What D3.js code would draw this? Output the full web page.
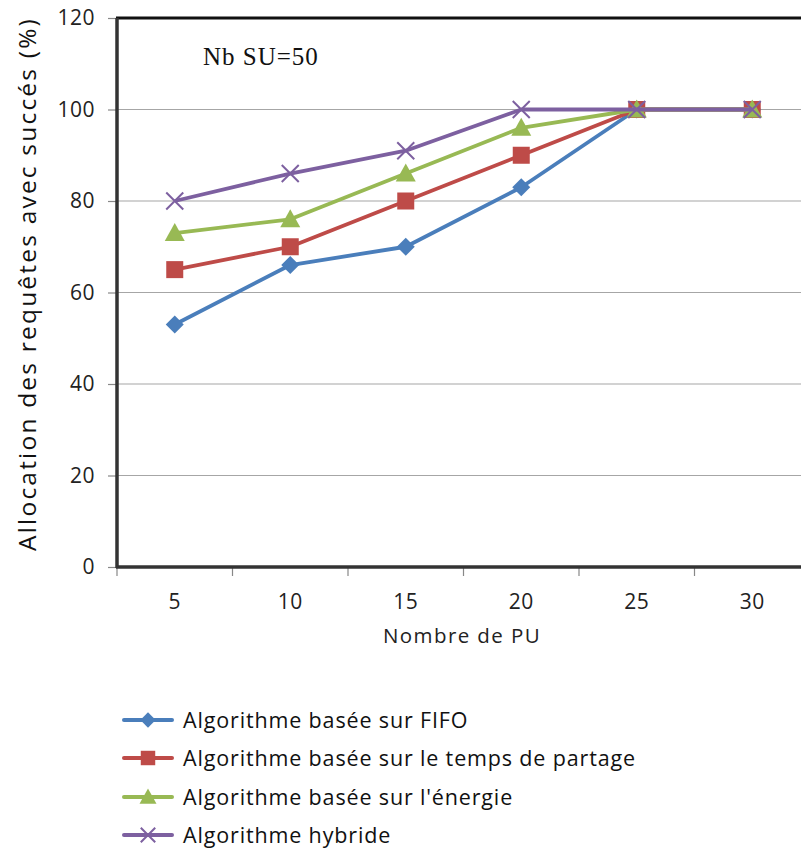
<!DOCTYPE html>
<html>
<head>
<meta charset="utf-8">
<script src="https://cdn.jsdelivr.net/npm/d3@7"></script>
<style>
  html, body { margin: 0; padding: 0; background: #fff; }
  svg { display: block; }
</style>
</head>
<body>
<svg id="chart" width="801" height="849"></svg>
<script>
// Nombre de PU (x categories)
const categories = ["5", "10", "15", "20", "25", "30"];
// Allocation des requêtes avec succès (%) per algorithm
const fifo = [53, 66, 70, 83, 100, 100];
const tempsPartage = [65, 70, 80, 90, 100, 100];
const energie = [73, 76, 86, 96, 100, 100];
const hybride = [80, 86, 91, 100, 100, 100];
const yTicks = [0, 20, 40, 60, 80, 100, 120];

const seriesNames = [
  "Algorithme basée sur FIFO",
  "Algorithme basée sur le temps de partage",
  "Algorithme basée sur l'énergie",
  "Algorithme hybride"
];
const seriesValues = [fifo, tempsPartage, energie, hybride];
const colors = ["#4a7ebb", "#be4b48", "#98b954", "#7d60a0"];
const shapes = ["diamond", "square", "triangle", "cross"];

const font = "'Open Sans', 'DejaVu Sans', sans-serif";
const svg = d3.select("#chart");

const plot = { left: 117, top: 18, bottom: 567, band: 115.5 };
const x = d3.scaleBand()
  .domain(categories)
  .range([plot.left, plot.left + plot.band * categories.length])
  .paddingInner(0).paddingOuter(0);
const y = d3.scaleLinear().domain([0, 120]).range([plot.bottom, plot.top]);
const xc = c => x(c) + x.bandwidth() / 2;

// gridlines
svg.append("g")
  .selectAll("line")
  .data(yTicks.filter(t => t > 0 && t < 120))
  .join("line")
  .attr("x1", plot.left).attr("x2", 801)
  .attr("y1", d => y(d)).attr("y2", d => y(d))
  .attr("stroke", "#a6a6a6").attr("stroke-width", 1.2);

// y axis
const yAxis = svg.append("g")
  .attr("transform", `translate(${plot.left},0)`)
  .call(d3.axisLeft(y).tickValues(yTicks).tickSize(9).tickPadding(13));
yAxis.select(".domain").remove();
yAxis.selectAll(".tick line").attr("stroke", "#888").attr("stroke-width", 1.2);
yAxis.selectAll(".tick text")
  .attr("font-family", font).attr("font-size", 21).attr("letter-spacing", 0.5).attr("fill", "#222");

// x axis ticks at band edges
const edges = categories.map(c => x(c)).concat([x.range()[1]]);
svg.append("g").selectAll("line")
  .data(edges)
  .join("line")
  .attr("x1", d => d).attr("x2", d => d)
  .attr("y1", plot.bottom).attr("y2", plot.bottom + 9)
  .attr("stroke", "#888").attr("stroke-width", 1.2);

const xAxis = svg.append("g")
  .attr("transform", `translate(0,${plot.bottom})`)
  .call(d3.axisBottom(x).tickSize(0).tickPadding(27));
xAxis.select(".domain").remove();
xAxis.selectAll(".tick text")
  .attr("font-family", font).attr("font-size", 21).attr("letter-spacing", 0.5).attr("fill", "#222");

// frame
svg.append("line")
  .attr("x1", plot.left - 1).attr("x2", 801)
  .attr("y1", plot.top).attr("y2", plot.top)
  .attr("stroke", "#111").attr("stroke-width", 3);
svg.append("line")
  .attr("x1", plot.left).attr("x2", plot.left)
  .attr("y1", plot.top).attr("y2", plot.bottom + 1)
  .attr("stroke", "#333").attr("stroke-width", 3.5);
svg.append("line")
  .attr("x1", plot.left - 1).attr("x2", 801)
  .attr("y1", plot.bottom).attr("y2", plot.bottom)
  .attr("stroke", "#333").attr("stroke-width", 3.5);

// axis titles
svg.append("text")
  .attr("transform", `translate(36,284) rotate(-90)`)
  .attr("text-anchor", "middle")
  .attr("font-family", font).attr("font-size", 24.5).attr("letter-spacing", 2.2)
  .attr("fill", "#111")
  .text("Allocation des requêtes avec succés (%)");
svg.append("text")
  .attr("x", 462).attr("y", 643)
  .attr("text-anchor", "middle")
  .attr("font-family", font).attr("font-size", 20.5).attr("letter-spacing", 1.4)
  .attr("fill", "#222")
  .text("Nombre de PU");

// annotation
svg.append("text")
  .attr("x", 203).attr("y", 65)
  .attr("font-family", "'Liberation Serif', 'DejaVu Serif', serif")
  .attr("font-size", 25).attr("letter-spacing", 1).attr("fill", "#111")
  .text("Nb SU=50");

// marker drawing
function drawMarker(g, shape, color, cx, cy, scale) {
  const s = scale || 1;
  if (shape === "diamond") {
    const r = 9 * s;
    g.append("path")
      .attr("d", `M${cx},${cy - r}L${cx + r},${cy}L${cx},${cy + r}L${cx - r},${cy}Z`)
      .attr("fill", color);
  } else if (shape === "square") {
    const r = 8.5 * s;
    g.append("rect")
      .attr("x", cx - r).attr("y", cy - r)
      .attr("width", 2 * r).attr("height", 2 * r)
      .attr("fill", color);
  } else if (shape === "triangle") {
    const r = 10 * s;
    g.append("path")
      .attr("d", `M${cx},${cy - r}L${cx + r},${cy + r * 0.8}L${cx - r},${cy + r * 0.8}Z`)
      .attr("fill", color);
  } else {
    const r = 8.5 * s;
    g.append("path")
      .attr("d", `M${cx - r},${cy - r}L${cx + r},${cy + r}M${cx - r},${cy + r}L${cx + r},${cy - r}`)
      .attr("stroke", color).attr("stroke-width", 2).attr("fill", "none");
  }
}

// series lines + markers
const line = d3.line().x((d, i) => xc(categories[i])).y(d => y(d));
seriesValues.forEach((vals, k) => {
  const g = svg.append("g");
  g.append("path")
    .datum(vals)
    .attr("d", line)
    .attr("fill", "none")
    .attr("stroke", colors[k])
    .attr("stroke-width", 3.8)
    .attr("stroke-linejoin", "round");
  vals.forEach((v, i) => drawMarker(g, shapes[k], colors[k], xc(categories[i]), y(v)));
});

// legend
const legendY = [720, 758, 797, 835];
seriesNames.forEach((name, k) => {
  const g = svg.append("g");
  g.append("line")
    .attr("x1", 124).attr("x2", 172)
    .attr("y1", legendY[k]).attr("y2", legendY[k])
    .attr("stroke", colors[k]).attr("stroke-width", 4).attr("stroke-linecap", "round");
  drawMarker(g, shapes[k], colors[k], 148, legendY[k], 0.85);
  g.append("text")
    .attr("x", 183).attr("y", legendY[k])
    .attr("dy", "0.35em")
    .attr("font-family", font).attr("font-size", 21.5).attr("letter-spacing", 0.85)
    .attr("fill", "#111")
    .text(name);
});
</script>
</body>
</html>
